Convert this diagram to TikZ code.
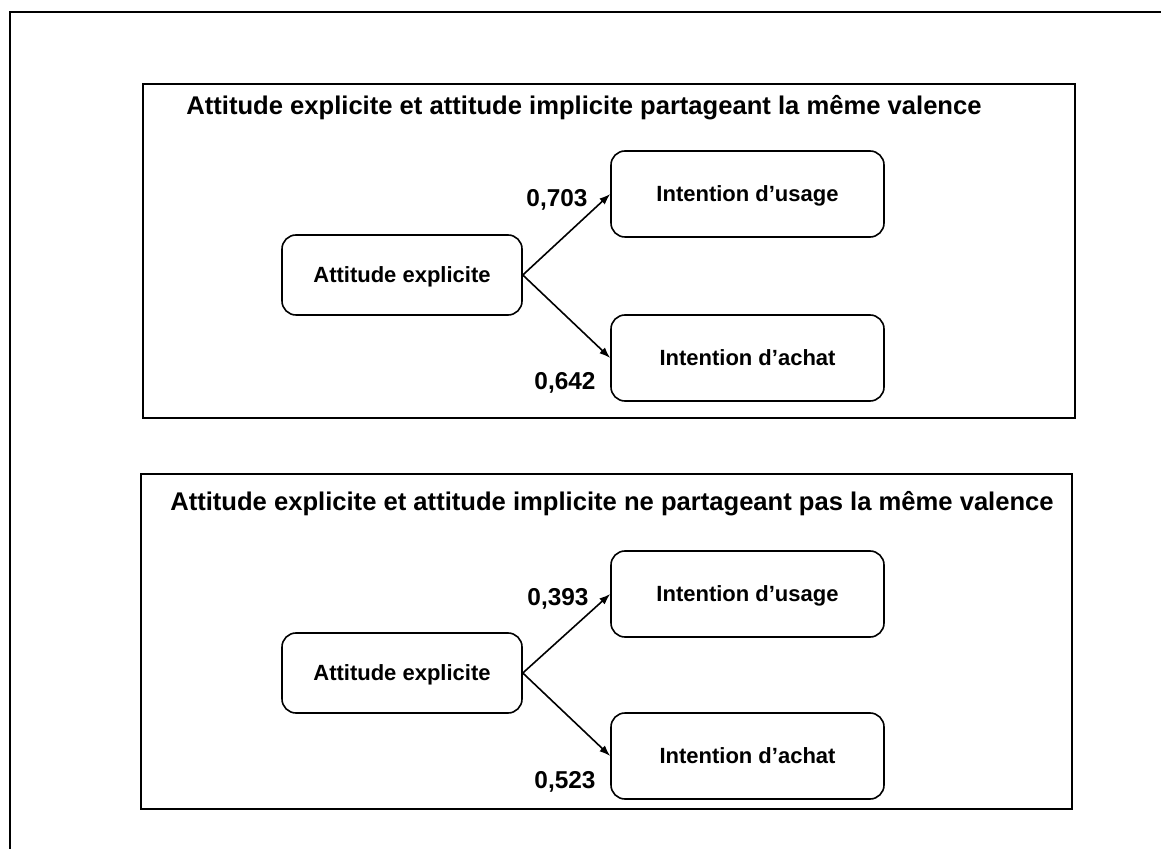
\documentclass[tikz,border=0pt]{standalone}
\usepackage{fontspec}
\setmainfont{Liberation Sans}
\usetikzlibrary{arrows.meta}

\begin{document}
\begin{tikzpicture}[>={Latex[length=5.5pt,width=4pt]}, x=0.5pt, y=-0.5pt]
  \tikzset{box/.style   = {draw, rounded corners=7pt, line width=0.8pt, inner sep=0pt,
                           text height=7.9pt, text depth=0pt,
                           font=\fontsize{11}{13}\selectfont\bfseries},
           cause/.style = {box, minimum width=120pt, minimum height=40pt},
           effet/.style = {box, minimum width=136.5pt, minimum height=43pt},
           coef/.style  = {anchor=base, font=\fontsize{12.2}{14}\selectfont\bfseries},
           titre/.style = {anchor=base, font=\fontsize{12.8}{15}\selectfont\bfseries},
           panel/.style = {line width=0.8pt},
           lien/.style  = {->, line width=0.8pt}}
  \useasboundingbox (0,0) rectangle (1161,849);
  \draw[line width=1.1pt] (10,849) -- (10,12) -- (1161,12);
  % meme valence
  \draw[panel] (143,84) rectangle (1075,418);
  \node[titre] (T1) at (584,115) {Attitude explicite et attitude implicite partageant la même valence};
  \node[cause] (AE1) at (402,275) {Attitude explicite};
  \node[effet] (IU1) at (747.5,194) {Intention d’usage};
  \node[effet] (IA1) at (747.5,358) {Intention d’achat};
  \draw[lien] (AE1.east) -- (IU1.west);
  \draw[lien] (AE1.east) -- (IA1.west);
  \node[coef] (c1) at (557,207) {0,703};
  \node[coef] (c2) at (565,390) {0,642};
  % valence differente
  \draw[panel] (141,474) rectangle (1072,809);
  \node[titre] (T2) at (612,510) {Attitude explicite et attitude implicite ne partageant pas la même valence};
  \node[cause] (AE2) at (402,673) {Attitude explicite};
  \node[effet] (IU2) at (747.5,594) {Intention d’usage};
  \node[effet] (IA2) at (747.5,756) {Intention d’achat};
  \draw[lien] (AE2.east) -- (IU2.west);
  \draw[lien] (AE2.east) -- (IA2.west);
  \node[coef] (c3) at (558,605) {0,393};
  \node[coef] (c4) at (565,788) {0,523};
\end{tikzpicture}
\end{document}
